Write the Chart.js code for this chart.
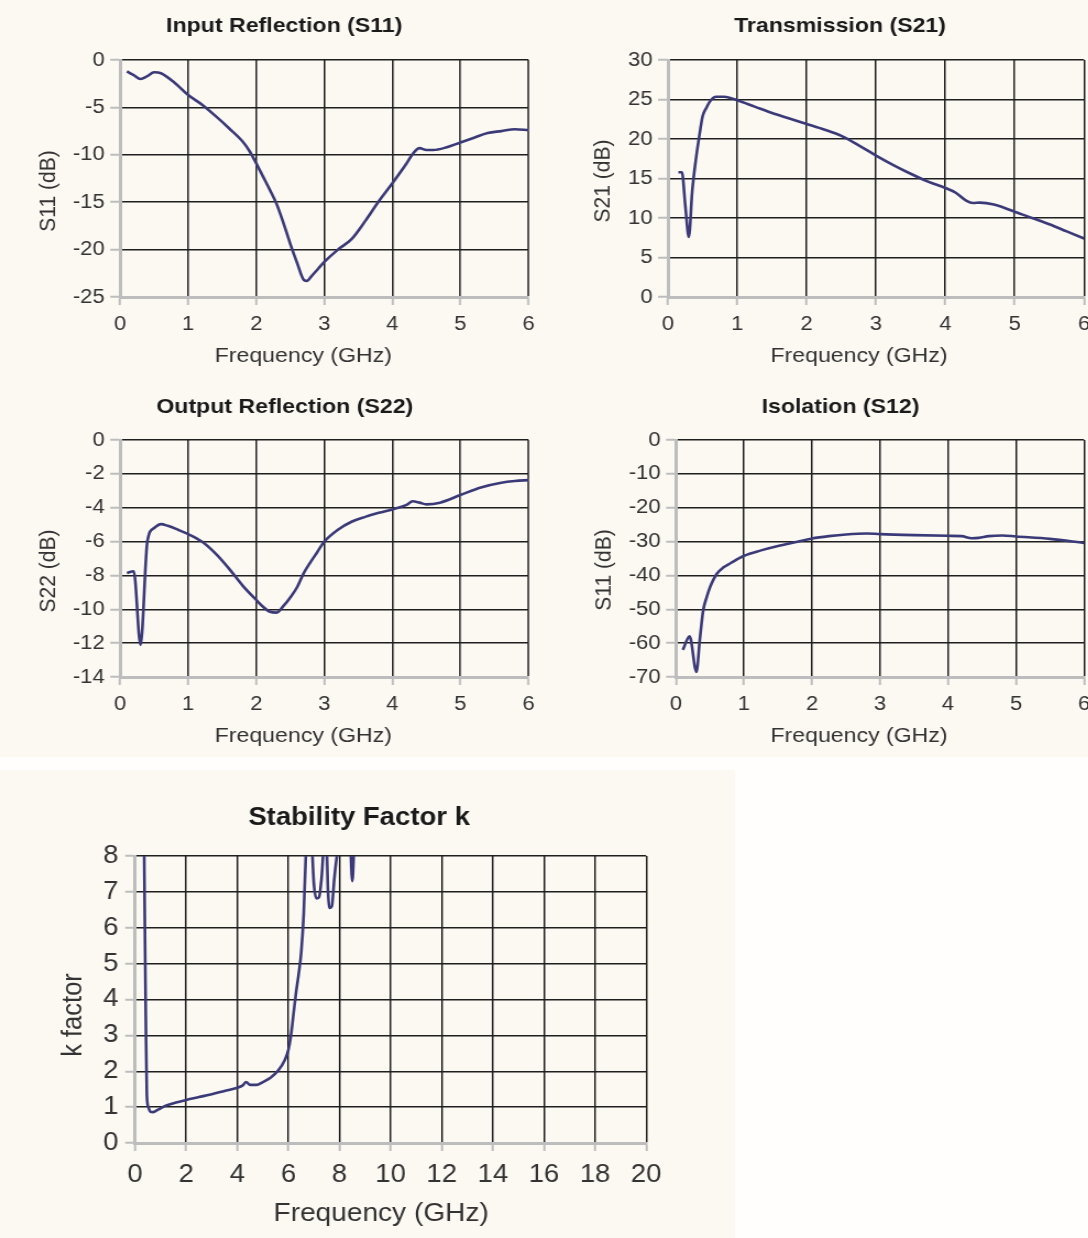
<!DOCTYPE html>
<html>
<head>
<meta charset="utf-8">
<title>Amplifier S-parameters</title>
<script src="https://cdn.jsdelivr.net/npm/chart.js@4.4.1/dist/chart.umd.min.js"></script>
<style>
  html, body { margin: 0; padding: 0; width: 1088px; height: 1238px; overflow: hidden; background: #fffefc; }
  .panel { position: absolute; background: #fcf9f3; }
  canvas { position: absolute; }
</style>
</head>
<body>
<div class="panel" style="left:0;top:0;width:1088px;height:757px"></div>
<div class="panel" style="left:0;top:770px;width:735px;height:468px"></div>
<canvas id="s11"></canvas>
<canvas id="s21"></canvas>
<canvas id="s22"></canvas>
<canvas id="s12"></canvas>
<canvas id="kfac"></canvas>
<script>
// --- data ---
const s11Freq = [0.1, 0.2, 0.3, 0.4, 0.5, 0.6, 0.8, 1.0, 1.2, 1.4, 1.6, 1.8, 1.9, 2.0, 2.1, 2.2, 2.3, 2.4, 2.5, 2.6, 2.7, 2.75, 2.8, 2.9, 3.0, 3.2, 3.4, 3.6, 3.8, 4.0, 4.2, 4.3, 4.4, 4.5, 4.6, 4.8, 5.0, 5.2, 5.4, 5.6, 5.8, 6.0];
const s11Db = [-1.2, -1.6, -2.0, -1.7, -1.3, -1.4, -2.4, -3.7, -4.7, -5.9, -7.2, -8.6, -9.6, -10.9, -12.3, -13.7, -15.2, -17.2, -19.4, -21.4, -23.2, -23.3, -22.9, -22.1, -21.3, -20.0, -18.9, -17.0, -14.9, -13.0, -11.0, -9.9, -9.3, -9.5, -9.5, -9.2, -8.7, -8.2, -7.7, -7.5, -7.3, -7.4];

const s21Freq = [0.15, 0.2, 0.25, 0.3, 0.35, 0.4, 0.45, 0.5, 0.55, 0.6, 0.65, 0.7, 0.8, 0.9, 1.0, 1.25, 1.5, 1.75, 2.0, 2.25, 2.5, 2.75, 3.0, 3.25, 3.5, 3.75, 4.0, 4.15, 4.3, 4.4, 4.5, 4.7, 5.0, 5.25, 5.5, 5.75, 6.0];
const s21Db = [15.8, 15.8, 11.5, 7.6, 13.5, 17.3, 20.3, 22.9, 23.9, 24.7, 25.2, 25.35, 25.35, 25.2, 24.9, 24.1, 23.3, 22.6, 21.9, 21.2, 20.4, 19.2, 17.9, 16.7, 15.6, 14.6, 13.8, 13.2, 12.2, 11.9, 11.95, 11.7, 10.8, 10.0, 9.2, 8.3, 7.4];

const s22Freq = [0.1, 0.2, 0.3, 0.4, 0.5, 0.6, 0.7, 0.85, 1.0, 1.2, 1.4, 1.6, 1.8, 2.0, 2.1, 2.2, 2.3, 2.4, 2.5, 2.6, 2.7, 2.8, 2.9, 3.0, 3.2, 3.4, 3.6, 3.8, 4.0, 4.2, 4.3, 4.4, 4.5, 4.7, 5.0, 5.3, 5.6, 5.8, 6.0];
const s22Db = [-7.85, -7.75, -12.1, -6.0, -5.2, -4.97, -5.07, -5.3, -5.56, -6.0, -6.7, -7.6, -8.6, -9.45, -9.85, -10.15, -10.2, -9.8, -9.3, -8.7, -7.85, -7.2, -6.6, -6.0, -5.3, -4.83, -4.54, -4.3, -4.1, -3.85, -3.62, -3.7, -3.8, -3.7, -3.25, -2.8, -2.52, -2.42, -2.37];

const s12Freq = [0.1, 0.2, 0.3, 0.35, 0.4, 0.45, 0.5, 0.6, 0.7, 0.8, 1.0, 1.25, 1.5, 1.75, 2.0, 2.25, 2.5, 2.8, 3.0, 3.5, 4.0, 4.2, 4.35, 4.45, 4.6, 4.8, 5.0, 5.5, 6.0];
const s12Db = [-62, -58, -68.5, -59, -50.3, -46.5, -43.5, -39.5, -37.6, -36.4, -34.2, -32.6, -31.3, -30.2, -29.1, -28.4, -27.9, -27.6, -27.8, -28.1, -28.3, -28.4, -29.0, -28.9, -28.4, -28.2, -28.5, -29.2, -30.4];

const kFreq = [0.3, 0.35, 0.38, 0.42, 0.46, 0.52, 0.6, 0.7, 0.9, 1.2, 1.6, 2.0, 2.5, 3.0, 3.5, 4.0, 4.2, 4.35, 4.5, 4.75, 5.0, 5.3, 5.6, 5.85, 6.0, 6.1, 6.2, 6.3, 6.4, 6.5, 6.6, 6.7, 6.8, 6.9, 7.0, 7.1, 7.2, 7.3, 7.4, 7.5, 7.55, 7.6, 7.7, 7.8, 7.95, 8.2, 8.42, 8.5, 8.58, 8.8, 9.5, 12, 16, 20];
const kFactor = [12, 8.6, 6.3, 3.5, 1.35, 1.0, 0.87, 0.86, 0.93, 1.04, 1.13, 1.2, 1.28, 1.36, 1.45, 1.54, 1.6, 1.7, 1.62, 1.62, 1.7, 1.82, 2.02, 2.3, 2.6, 3.0, 3.6, 4.2, 4.7, 5.3, 6.4, 8.4, 9.5, 8.6, 7.2, 6.82, 6.85, 7.4, 8.3, 8.1, 7.0, 6.55, 6.6, 7.4, 8.3, 9.5, 8.4, 7.3, 8.4, 10, 12, 15, 18, 20];

// tick labels
const ghzTicks = [0, 1, 2, 3, 4, 5, 6];
const kGhzTicks = [0, 2, 4, 6, 8, 10, 12, 14, 16, 18, 20];
const s11Ticks = [0, -5, -10, -15, -20, -25];
const s21Ticks = [0, 5, 10, 15, 20, 25, 30];
const s22Ticks = [0, -2, -4, -6, -8, -10, -12, -14];
const s12Ticks = [0, -10, -20, -30, -40, -50, -60, -70];
const kTicks = [0, 1, 2, 3, 4, 5, 6, 7, 8];

const FONT = "'Liberation Sans', Arial, sans-serif";
const LINE = '#3b3a78';

// axis titles drawn at fixed spots (the source centres them off the plot area)
const axisTitles = {
    id: 'axisTitles',
    afterDraw(chart, args, o) {
        const ctx = chart.ctx;
        ctx.save();
        ctx.fillStyle = '#333';
        ctx.font = `${o.size}px ${FONT}`;
        ctx.textAlign = 'center';
        ctx.textBaseline = 'middle';
        ctx.fillText(o.x, o.xAt[0], o.xAt[1]);
        ctx.translate(o.yAt[0], o.yAt[1]);
        ctx.rotate(-Math.PI / 2);
        ctx.fillText(o.y, 0, 0);
        ctx.restore();
    }
};

function range(ticks) {
    const lo = Math.min(...ticks), hi = Math.max(...ticks);
    return { min: lo, max: hi, stepSize: (hi - lo) / (ticks.length - 1) };
}

// spec positions are page pixels; the canvas is drawn narrow and stretched by css
function buildChart(spec) {
    const { width: W, height: H, stretch: s } = spec;
    const canvas = document.getElementById(spec.id);
    canvas.width = W;
    canvas.height = H;
    canvas.style.left = spec.left + 'px';
    canvas.style.top = spec.top + 'px';
    canvas.style.width = (W * s) + 'px';
    canvas.style.height = H + 'px';

    const ix = p => (p - spec.left) / s;
    const iy = p => p - spec.top;
    const [pl, pr, pt, pb] = spec.plot;
    const padL = ix(spec.titleLeft);
    const padR = W - ix(pr);
    const yWidth = ix(pl) - padL;
    const xHeight = H - iy(pb);
    const tlh = spec.titleSize * 1.2;
    const tcy = iy(spec.titleY);

    const gridCommon = {
        color: '#1f1f1f',
        lineWidth: 1.5,
        tickColor: '#bdbdbd',
        tickWidth: 2
    };
    const tickFont = { family: FONT, size: spec.tickSize };

    return new Chart(canvas, {
        type: 'line',
        data: {
            datasets: [{
                data: spec.xs.map((x, i) => ({ x: x, y: spec.ys[i] })),
                borderColor: LINE,
                borderWidth: 2.6,
                pointRadius: 0,
                cubicInterpolationMode: 'monotone',
                fill: false
            }]
        },
        options: {
            responsive: false,
            devicePixelRatio: 1,
            animation: false,
            layout: { padding: { left: padL, right: padR, top: 0, bottom: 0 } },
            scales: {
                x: {
                    type: 'linear',
                    ...range(spec.xTicks),
                    grid: { ...gridCommon, tickLength: 8 },
                    border: { color: '#bdbdbd', width: 3 },
                    ticks: { color: '#333', font: tickFont, padding: spec.xTickPad, maxRotation: 0 },
                    afterFit: sc => { sc.height = xHeight; }
                },
                y: {
                    ...range(spec.yTicks),
                    grid: { ...gridCommon, tickLength: spec.yTickLen },
                    border: { color: '#bdbdbd', width: 3 },
                    ticks: { color: '#333', font: tickFont, padding: spec.yTickPad },
                    afterFit: sc => { sc.width = yWidth; }
                }
            },
            plugins: {
                legend: { display: false },
                tooltip: { enabled: false },
                title: {
                    display: true,
                    text: spec.title,
                    color: '#1a1a1a',
                    font: { family: FONT, size: spec.titleSize, weight: 'bold', lineHeight: 1.2 },
                    padding: { top: tcy - tlh / 2, bottom: iy(pt) - tcy - tlh / 2 }
                },
                axisTitles: {
                    size: spec.labelSize,
                    x: 'Frequency (GHz)',
                    y: spec.yLabel,
                    xAt: [ix(spec.xLabelAt[0]), iy(spec.xLabelAt[1])],
                    yAt: [ix(spec.yLabelAt[0]), iy(spec.yLabelAt[1])]
                }
            }
        },
        plugins: [axisTitles]
    });
}

const small = { stretch: 1.1, height: 380, titleSize: 21, tickSize: 20, labelSize: 21, xTickPad: 7, yTickPad: 5, yTickLen: 9, xTicks: ghzTicks };

buildChart({ ...small, id: 's11', left: 0, top: 0, width: 495,
    plot: [120, 528, 60, 297], titleLeft: 40, titleY: 26,
    title: 'Input Reflection (S11)', yLabel: 'S11 (dB)',
    xLabelAt: [303, 356], yLabelAt: [49, 191],
    xs: s11Freq, ys: s11Db, yTicks: s11Ticks });

buildChart({ ...small, id: 's21', left: 548, top: 0, width: 500,
    plot: [668, 1084, 60, 297], titleLeft: 596, titleY: 26,
    title: 'Transmission (S21)', yLabel: 'S21 (dB)',
    xLabelAt: [859, 356], yLabelAt: [603, 181],
    xs: s21Freq, ys: s21Db, yTicks: s21Ticks });

buildChart({ ...small, id: 's22', left: 0, top: 380, width: 495,
    plot: [120, 528, 440, 677], titleLeft: 41, titleY: 407,
    title: 'Output Reflection (S22)', yLabel: 'S22 (dB)',
    xLabelAt: [303, 736], yLabelAt: [49, 571],
    xs: s22Freq, ys: s22Db, yTicks: s22Ticks });

buildChart({ ...small, id: 's12', left: 548, top: 380, width: 500,
    plot: [676, 1084, 440, 677], titleLeft: 597, titleY: 407,
    title: 'Isolation (S12)', yLabel: 'S11 (dB)',
    xLabelAt: [859, 736], yLabelAt: [604, 570],
    xs: s12Freq, ys: s12Db, yTicks: s12Ticks });

buildChart({ id: 'kfac', stretch: 1.1, left: 0, top: 770, width: 668, height: 468,
    plot: [135, 646, 856, 1143], titleLeft: 72, titleY: 818,
    titleSize: 25, tickSize: 25, labelSize: 25.5, xTickPad: 9, yTickPad: 6, yTickLen: 9,
    title: 'Stability Factor k', yLabel: 'k factor',
    xLabelAt: [381, 1214], yLabelAt: [74, 1015],
    xs: kFreq, ys: kFactor, xTicks: kGhzTicks, yTicks: kTicks });
</script>
</body>
</html>
